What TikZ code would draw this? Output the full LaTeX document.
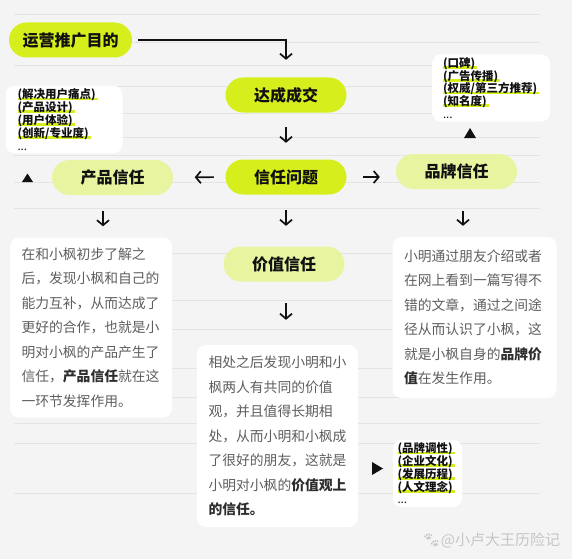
\documentclass[tikz,border=0pt]{standalone}
\usepackage{fontspec}
\setmainfont{Noto Sans CJK SC}
\newfontfamily\emo{Noto Emoji}
\usepackage{tikz}
\usetikzlibrary{arrows.meta}
\definecolor{bg}{HTML}{F4F4F4}
\definecolor{rule}{HTML}{E4E4E4}
\definecolor{lime}{HTML}{D6EF1C}
\definecolor{limelt}{HTML}{E8F4A0}
\definecolor{ink}{HTML}{111111}
\definecolor{body}{HTML}{5E5E5E}
\definecolor{keyink}{HTML}{2E2E2E}
\definecolor{wm}{HTML}{C6C6C6}
\newsavebox\hlbox
\newcommand{\hlt}[1]{\leavevmode\sbox\hlbox{#1}\rlap{\color{lime}\rule[-1.6pt]{\dimexpr\wd\hlbox+2pt\relax}{2.8pt}}\usebox\hlbox}
\newcommand{\keyword}[1]{\textcolor{keyink}{\bfseries #1}}
\tikzset{
  pill/.style={rounded corners=17.5pt, minimum width=121pt, minimum height=35pt, inner sep=0pt, font=\bfseries\fontsize{16}{19}\selectfont, text=ink},
  hot/.style={pill, fill=lime},
  mild/.style={pill, fill=limelt},
  card/.style={fill=white, rounded corners=9pt, align=left},
  story/.style={card, text=body, font=\fontsize{13.8}{24.5}\selectfont, inner xsep=11.5pt},
  tags/.style={card, text=ink, font=\bfseries\fontsize{11.5}{12.8}\selectfont, inner ysep=3pt},
  arr/.style={draw=ink, line width=1.7pt, -{Straight Barb[length=5pt,width=12pt]}},
  rules/.style={draw=rule, line width=0.8pt},
}

\begin{document}
\begin{tikzpicture}[x=1pt,y=-1pt]
  \fill[bg] (0,0) rectangle (572,559);
  \useasboundingbox (0,0) rectangle (572,559);
  \foreach \y in {14,42,65,86,113,137,155,182,208,253,300,329,368,397,423,443,493}
    \draw[rules] (14,\y) -- (540,\y);

  % pills
  \node[hot, minimum width=123pt] (goal) at (70.5,40) {运营推广目的};
  \node[hot] (deal) at (286,95) {达成成交};
  \node[hot] (trust) at (286,177) {信任问题};
  \node[mild] (prod) at (112.5,177.5) {产品信任};
  \node[mild] (brand) at (456.5,171.5) {品牌信任};
  \node[mild] (value) at (284,264) {价值信任};

  % tag lists
  \node[tags, text width=93pt, inner xsep=12pt] (prodtags) at (64,119.5)
    {\hlt{(解决用户痛点)}\\\hlt{(产品设计)}\\\hlt{(用户体验)}\\\hlt{(创新/专业度)}\\{\mdseries ...}};
  \node[tags, text width=96pt, inner xsep=11pt] (brandtags) at (491,88)
    {\hlt{(口碑)}\\\hlt{(广告传播)}\\\hlt{(权威/第三方推荐)}\\\hlt{(知名度)}\\{\mdseries ...}};
  \node[tags, text width=60pt, inner xsep=4.5pt] (valuetags) at (427.5,473.5)
    {\hlt{(品牌调性)}\\\hlt{(企业文化)}\\\hlt{(发展历程)}\\\hlt{(人文理念)}\\{\mdseries ...}};

  % stories
  \node[story, text width=139pt, minimum height=180pt] (prodtxt) at (91,327.5)
    {在和小枫初步了解之\\后，发现小枫和自己的\\能力互补，从而达成了\\更好的合作，也就是小\\明对小枫的产品产生了\\信任，\keyword{产品信任}就在这\\一环节发挥作用。};
  \node[story, text width=141pt, minimum height=161pt] (brandtxt) at (474.5,317.5)
    {小明通过朋友介绍或者\\在网上看到一篇写得不\\错的文章，通过之间途\\径从而认识了小枫，这\\就是小枫自身的\keyword{品牌价}\\\keyword{值}在发生作用。};
  \node[story, text width=138pt, minimum height=182pt] (valuetxt) at (277.5,436)
    {相处之后发现小明和小\\枫两人有共同的价值\\观，并且值得长期相\\处，从而小明和小枫成\\了很好的朋友，这就是\\小明对小枫的\keyword{价值观上}\\\keyword{的信任。}};

  % arrows
  \draw[arr, shorten <=6pt, shorten >=17.5pt] (goal.east) -| (deal.north);
  \draw[arr, shorten <=14.5pt, shorten >=16.5pt] (deal.south) -- (trust.north);
  \draw[arr, shorten <=11.5pt, shorten >=21.5pt] (trust.west) -- (prod.east);
  \draw[arr, shorten <=16.5pt, shorten >=16pt] (trust.east) -- (trust.east -| brand.west);
  \draw[arr, shorten <=15.5pt, shorten >=11pt] ([xshift=-9.5pt]prod.south) -- ([xshift=-9.5pt]prod.south |- prodtxt.north);
  \draw[arr, shorten <=15.5pt, shorten >=20.5pt] (trust.south) -- (trust.south |- value.north);
  \draw[arr, shorten <=21.5pt, shorten >=11pt] ([xshift=6.5pt]brand.south) -- ([xshift=6.5pt]brand.south |- brandtxt.north);
  \draw[arr, shorten <=21.5pt, shorten >=25pt] ([xshift=2pt]value.south) -- ([xshift=2pt]value.south |- valuetxt.north);

  % pointers
  \coordinate (ptri) at (27.5,178);
  \coordinate (btri) at (470,133);
  \coordinate (vtri) at (377.5,468.5);
  \fill[ink] ([shift={(0,-4.5)}]ptri) -- ([shift={(5.5,4)}]ptri) -- ([shift={(-5.5,4)}]ptri) -- cycle;
  \fill[ink] ([shift={(0,-5)}]btri) -- ([shift={(6,5)}]btri) -- ([shift={(-6,5)}]btri) -- cycle;
  \fill[ink] ([shift={(5.5,0)}]vtri) -- ([shift={(-5.5,-6.5)}]vtri) -- ([shift={(-5.5,6.5)}]vtri) -- cycle;

  % watermark
  \node[text=wm, font=\fontsize{15}{18}\selectfont, inner sep=0pt] (mark) at (491,540) {{\emo 🐾}@小卢大王历险记};
\end{tikzpicture}
\end{document}
